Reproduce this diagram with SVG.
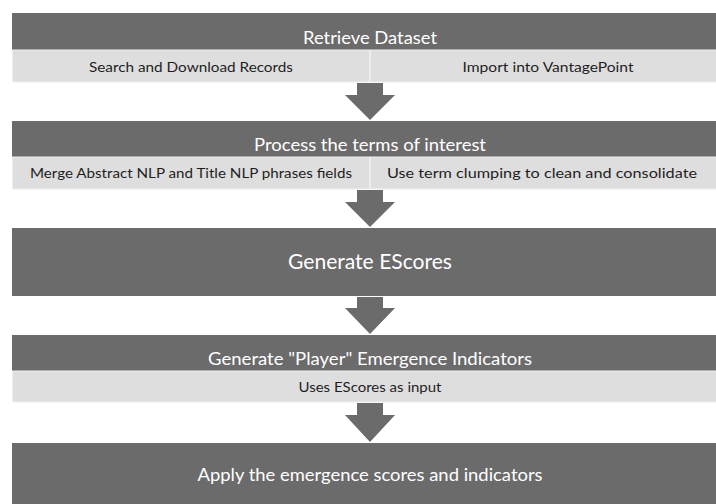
<svg xmlns="http://www.w3.org/2000/svg" width="716" height="504" viewBox="0 0 716 504">
<style>
.dark{fill:#6b6b6b}
.light{fill:#dedede;stroke:#f0f0f0;stroke-width:1}
.div{stroke:#f2f2f2;stroke-width:1.5}
.arrow{fill:#6b6b6b}
text{font-family:Lato,"Open Sans","Liberation Sans",sans-serif;text-anchor:middle}
.t{fill:#ffffff;font-size:17px}
.s{fill:#1e1e1e;font-size:14px}
.big{fill:#ffffff;font-size:21px}
</style>
<rect width="716" height="504" fill="#ffffff"/>
<g id="connectors">
<path class="arrow" d="M357,83 H383 V95 H395 L370,120 L345,95 H357 Z"/>
<path class="arrow" d="M357,190 H383 V202 H395 L370,227 L345,202 H357 Z"/>
<path class="arrow" d="M357,297 H383 V308 H395 L370,334 L345,308 H357 Z"/>
<path class="arrow" d="M357,403 H383 V415 H395 L370,442 L345,415 H357 Z"/>
</g>
<g id="node-retrieve">
<rect class="dark" x="12" y="13" width="716" height="37"/>
<text class="t" x="370" y="44" textLength="134" lengthAdjust="spacingAndGlyphs">Retrieve Dataset</text>
<rect class="light" x="12.5" y="50" width="716" height="32"/>
<line class="div" x1="370" y1="50" x2="370" y2="82"/>
<text class="s" x="191" y="72" textLength="204" lengthAdjust="spacingAndGlyphs">Search and Download Records</text>
<text class="s" x="548" y="72" textLength="171" lengthAdjust="spacingAndGlyphs">Import into VantagePoint</text>
</g>
<g id="node-process">
<rect class="dark" x="12" y="121" width="716" height="36"/>
<text class="t" x="370" y="151" textLength="232" lengthAdjust="spacingAndGlyphs">Process the terms of interest</text>
<rect class="light" x="12.5" y="157" width="716" height="32"/>
<line class="div" x1="370" y1="157" x2="370" y2="189"/>
<text class="s" x="191" y="178" textLength="322" lengthAdjust="spacingAndGlyphs">Merge Abstract NLP and Title NLP phrases fields</text>
<text class="s" x="542" y="178" textLength="310" lengthAdjust="spacingAndGlyphs">Use term clumping to clean and consolidate</text>
</g>
<g id="node-escores">
<rect class="dark" x="12" y="228" width="716" height="68"/>
<text class="big" x="370" y="269" textLength="164" lengthAdjust="spacingAndGlyphs">Generate EScores</text>
</g>
<g id="node-player">
<rect class="dark" x="12" y="335" width="716" height="36"/>
<text class="t" x="370" y="365" textLength="324" lengthAdjust="spacingAndGlyphs">Generate "Player" Emergence Indicators</text>
<rect class="light" x="12.5" y="371" width="716" height="31"/>
<text class="s" x="370" y="392" textLength="143" lengthAdjust="spacingAndGlyphs">Uses EScores as input</text>
</g>
<g id="node-apply">
<rect class="dark" x="12" y="443" width="716" height="61"/>
<text class="t" x="370" y="481" textLength="345" lengthAdjust="spacingAndGlyphs">Apply the emergence scores and indicators</text>
</g>
</svg>
